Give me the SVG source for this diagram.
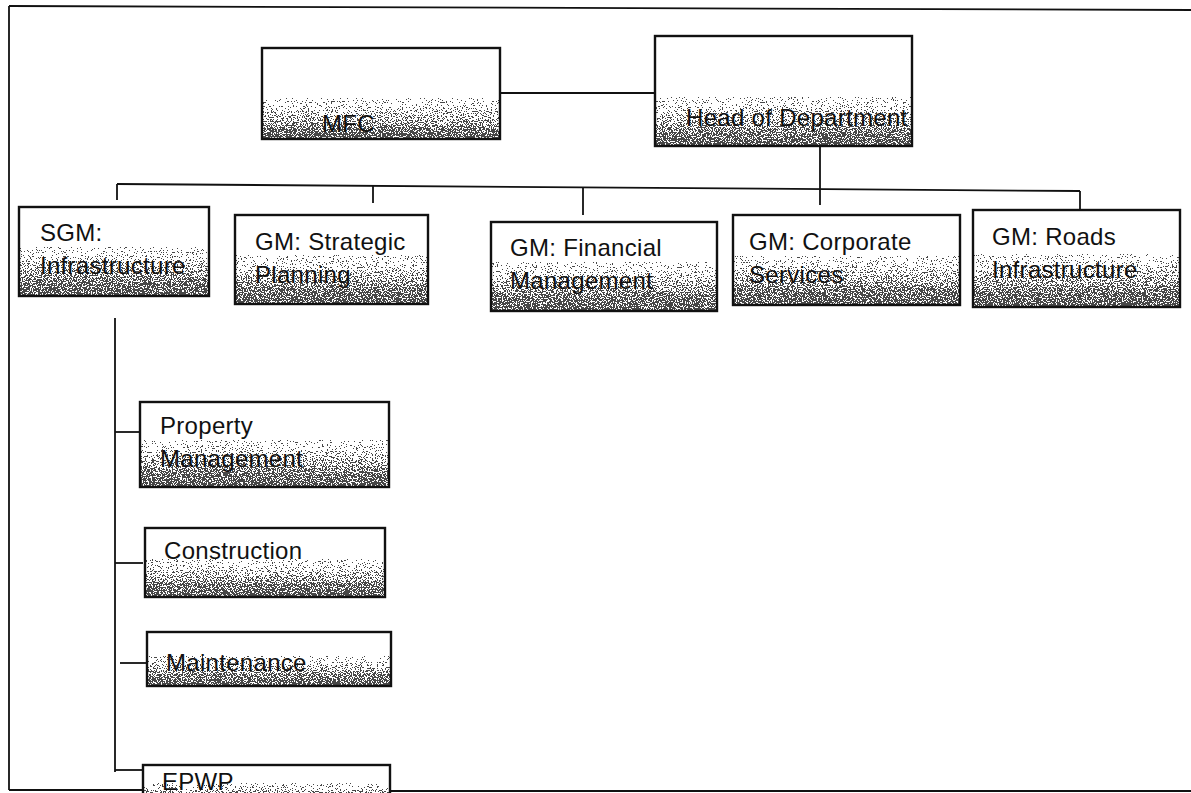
<svg xmlns="http://www.w3.org/2000/svg" width="1191" height="793" viewBox="0 0 1191 793">
<style>
.fillr{fill:url(#shade);filter:url(#speckle)}
.fillt{fill:url(#shadeTall);filter:url(#speckle)}
.edge{stroke:#111;stroke-width:2.4;fill:none}
.lbl{font-family:"Liberation Sans",Arial,sans-serif;font-size:24px;letter-spacing:0.3px;fill:#111}
.con line{stroke:#111;stroke-width:1.8;fill:none}
.border line{stroke:#111;stroke-width:1.8}
</style>
<defs>
<linearGradient id="shade" x1="0" y1="0" x2="0" y2="1">
<stop offset="0" stop-color="#fff"/>
<stop offset="0.45" stop-color="#fff"/>
<stop offset="0.56" stop-color="#e8e8e8"/>
<stop offset="0.7" stop-color="#a0a0a0"/>
<stop offset="0.85" stop-color="#606060"/>
<stop offset="1" stop-color="#404040"/>
</linearGradient>
<linearGradient id="shadeTall" x1="0" y1="0" x2="0" y2="1">
<stop offset="0" stop-color="#fff"/>
<stop offset="0.55" stop-color="#fff"/>
<stop offset="0.65" stop-color="#e8e8e8"/>
<stop offset="0.78" stop-color="#a0a0a0"/>
<stop offset="0.9" stop-color="#606060"/>
<stop offset="1" stop-color="#404040"/>
</linearGradient>
<filter id="speckle" x="0" y="0" width="1" height="1" color-interpolation-filters="sRGB">
<feTurbulence type="fractalNoise" baseFrequency="0.8" numOctaves="2" seed="7" result="n"/>
<feColorMatrix in="n" type="matrix" values="1 0 0 0 0  1 0 0 0 0  1 0 0 0 0  0 0 0 0 1" result="g"/>
<feComponentTransfer in="g" result="gs">
<feFuncR type="linear" slope="3" intercept="-1"/>
<feFuncG type="linear" slope="3" intercept="-1"/>
<feFuncB type="linear" slope="3" intercept="-1"/>
</feComponentTransfer>
<feComposite in="SourceGraphic" in2="gs" operator="arithmetic" k1="0" k2="1" k3="1" k4="-0.5" result="sum"/>
<feComponentTransfer in="sum" result="dith">
<feFuncR type="discrete" tableValues="0.28 1"/>
<feFuncG type="discrete" tableValues="0.28 1"/>
<feFuncB type="discrete" tableValues="0.28 1"/>
</feComponentTransfer>
<feComposite in="dith" in2="SourceAlpha" operator="in"/>
</filter>
</defs>
<rect x="0" y="0" width="1191" height="793" fill="#fff"/>
<g class="border">
<line x1="9" y1="6" x2="1191" y2="10"/>
<line x1="9" y1="6" x2="9" y2="790"/>
<line x1="9" y1="790" x2="143" y2="790"/>
<line x1="390" y1="791" x2="1191" y2="791"/>
</g>
<g class="con" id="connectors">
<line x1="500" y1="93" x2="655" y2="93"/>
<line x1="820" y1="146" x2="820" y2="205"/>
<line x1="117" y1="184" x2="1080" y2="191"/>
<line x1="117" y1="184" x2="117" y2="200"/>
<line x1="373" y1="186" x2="373" y2="203"/>
<line x1="583" y1="187.5" x2="583" y2="215"/>
<line x1="1080" y1="191" x2="1080" y2="210"/>
<line x1="115" y1="318" x2="115" y2="772"/>
<line x1="115" y1="432" x2="140" y2="432"/>
<line x1="115" y1="563" x2="143" y2="563"/>
<line x1="120" y1="663" x2="147" y2="663"/>
<line x1="115" y1="770" x2="143" y2="770"/>
</g>
<g id="mfc">
<rect class="fillt" x="262" y="48" width="238" height="91"/>
<rect class="edge" x="262" y="48" width="238" height="91"/>
<text class="lbl" x="322" y="132">MFC</text>
</g>
<g id="head-of-department">
<rect class="fillt" x="655" y="36" width="257" height="110"/>
<rect class="edge" x="655" y="36" width="257" height="110"/>
<text class="lbl" x="686" y="126">Head of Department</text>
</g>
<g id="sgm-infrastructure">
<rect class="fillr" x="19" y="207" width="190" height="89"/>
<rect class="edge" x="19" y="207" width="190" height="89"/>
<text class="lbl" x="40" y="241">SGM:</text>
<text class="lbl" x="40" y="274">Infrastructure</text>
</g>
<g id="gm-strategic-planning">
<rect class="fillr" x="235" y="215" width="193" height="89"/>
<rect class="edge" x="235" y="215" width="193" height="89"/>
<text class="lbl" x="255" y="250">GM: Strategic</text>
<text class="lbl" x="255" y="283">Planning</text>
</g>
<g id="gm-financial-management">
<rect class="fillr" x="491" y="222" width="226" height="89"/>
<rect class="edge" x="491" y="222" width="226" height="89"/>
<text class="lbl" x="510" y="256">GM: Financial</text>
<text class="lbl" x="510" y="289">Management</text>
</g>
<g id="gm-corporate-services">
<rect class="fillr" x="733" y="215" width="227" height="90"/>
<rect class="edge" x="733" y="215" width="227" height="90"/>
<text class="lbl" x="749" y="250">GM: Corporate</text>
<text class="lbl" x="749" y="283">Services</text>
</g>
<g id="gm-roads-infrastructure">
<rect class="fillr" x="973" y="210" width="207" height="97"/>
<rect class="edge" x="973" y="210" width="207" height="97"/>
<text class="lbl" x="992" y="245">GM: Roads</text>
<text class="lbl" x="992" y="278">Infrastructure</text>
</g>
<g id="property-management">
<rect class="fillr" x="140" y="402" width="249" height="85"/>
<rect class="edge" x="140" y="402" width="249" height="85"/>
<text class="lbl" x="160" y="434">Property</text>
<text class="lbl" x="160" y="467">Management</text>
</g>
<g id="construction">
<rect class="fillr" x="145" y="528" width="240" height="69"/>
<rect class="edge" x="145" y="528" width="240" height="69"/>
<text class="lbl" x="164" y="559">Construction</text>
</g>
<g id="maintenance">
<rect class="fillr" x="147" y="632" width="244" height="54"/>
<rect class="edge" x="147" y="632" width="244" height="54"/>
<text class="lbl" x="166" y="671">Maintenance</text>
</g>
<g id="epwp">
<rect class="fillr" x="143" y="765" width="247" height="40"/>
<rect class="edge" x="143" y="765" width="247" height="40"/>
<text class="lbl" x="162" y="790">EPWP</text>
</g>
</svg>
